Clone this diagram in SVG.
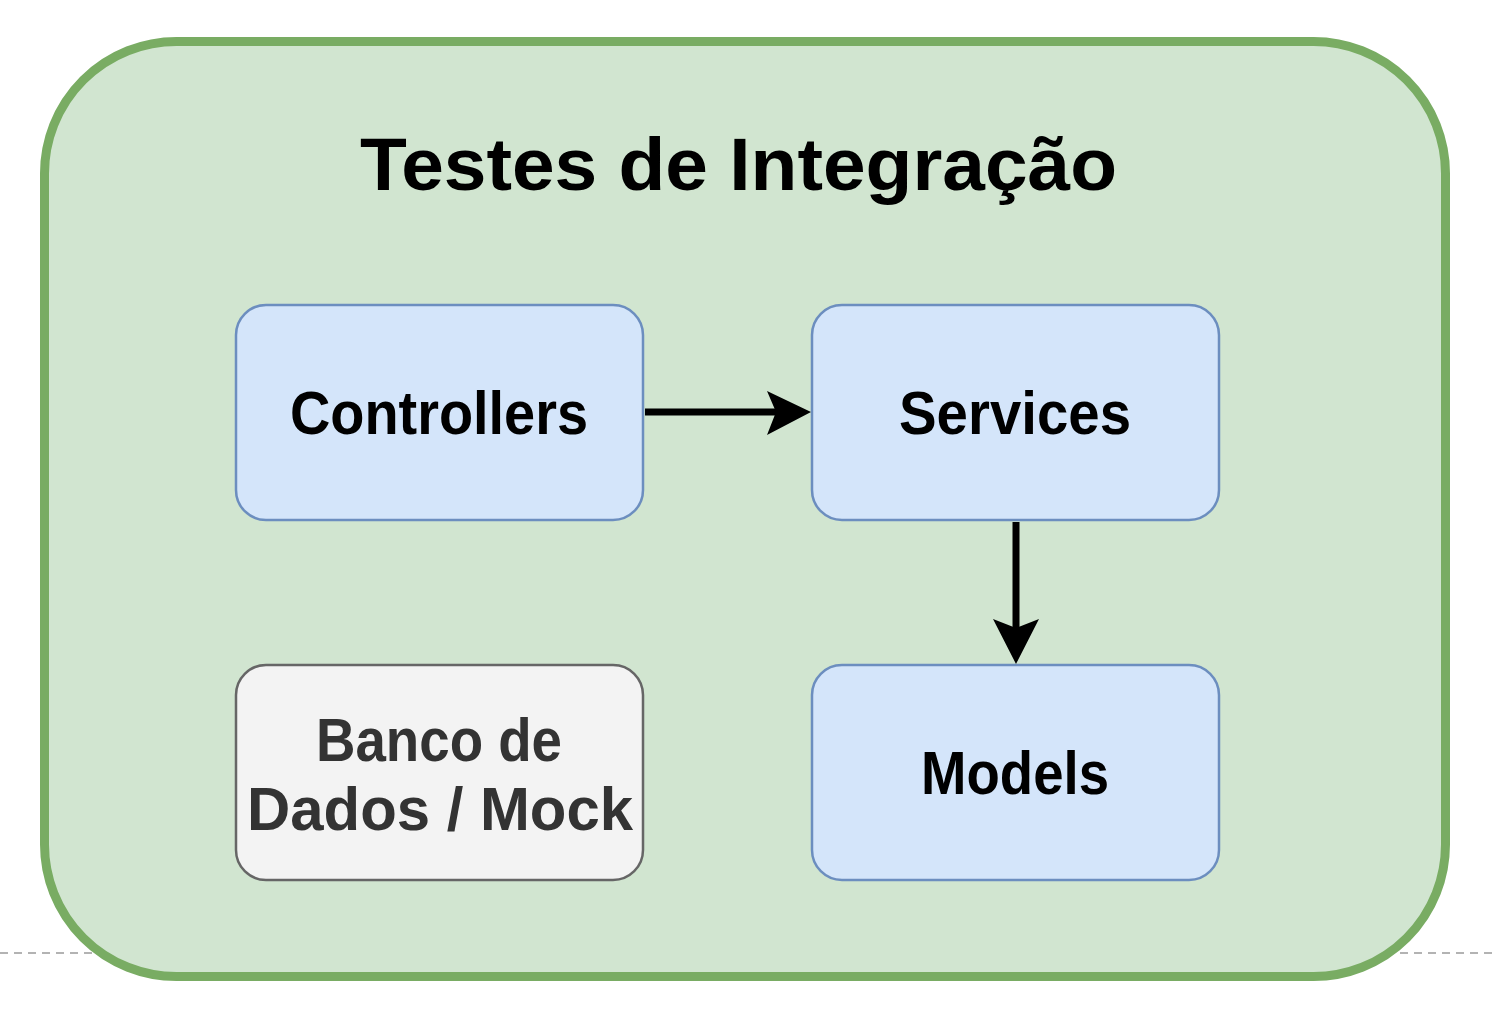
<svg xmlns="http://www.w3.org/2000/svg" width="1496" height="1030" viewBox="0 0 1496 1030">
<style>
.lbl{font-family:"Liberation Sans",Arial,sans-serif;font-weight:bold;font-size:62px;text-anchor:middle;fill:#000}
.blue{fill:#d4e5fa;stroke:#6c8ebf;stroke-width:2.5}
.gray{fill:#f3f3f3;stroke:#666666;stroke-width:2.5}
.edge{stroke:#000;stroke-width:7;fill:none}
</style>
<rect width="1496" height="1030" fill="#ffffff"/>
<line x1="0" y1="953" x2="1496" y2="953" stroke="#b3b3b3" stroke-width="2" stroke-dasharray="8 6"/>
<g id="container">
<rect x="44.5" y="41.5" width="1401" height="935" rx="132" ry="132" fill="#d1e5d0" stroke="#79ac63" stroke-width="9"/>
<text x="738.5" y="190" class="lbl" style="font-size:74px" textLength="757" lengthAdjust="spacingAndGlyphs">Testes de Integração</text>
</g>
<g id="controllers">
<rect x="236" y="305" width="407" height="215" rx="30" ry="30" class="blue"/>
<text x="439" y="434" class="lbl" textLength="298" lengthAdjust="spacingAndGlyphs">Controllers</text>
</g>
<g id="services">
<rect x="812" y="305" width="407" height="215" rx="30" ry="30" class="blue"/>
<text x="1015" y="434" class="lbl" textLength="232" lengthAdjust="spacingAndGlyphs">Services</text>
</g>
<g id="banco">
<rect x="236" y="665" width="407" height="215" rx="30" ry="30" class="gray"/>
<text x="439" y="761" class="lbl" style="fill:#333333" textLength="246" lengthAdjust="spacingAndGlyphs">Banco de</text>
<text x="440" y="830" class="lbl" style="fill:#333333" textLength="386" lengthAdjust="spacingAndGlyphs">Dados / Mock</text>
</g>
<g id="models">
<rect x="812" y="665" width="407" height="215" rx="30" ry="30" class="blue"/>
<text x="1015" y="794" class="lbl" textLength="188" lengthAdjust="spacingAndGlyphs">Models</text>
</g>
<g id="connectors">
<line x1="645" y1="412" x2="778" y2="412" class="edge"/>
<polygon points="811,412 767,391 776,412 767,435" fill="#000"/>
<line x1="1016" y1="522" x2="1016" y2="630" class="edge"/>
<polygon points="1016,664 993,619 1016,628 1039,619" fill="#000"/>
</g>
</svg>
